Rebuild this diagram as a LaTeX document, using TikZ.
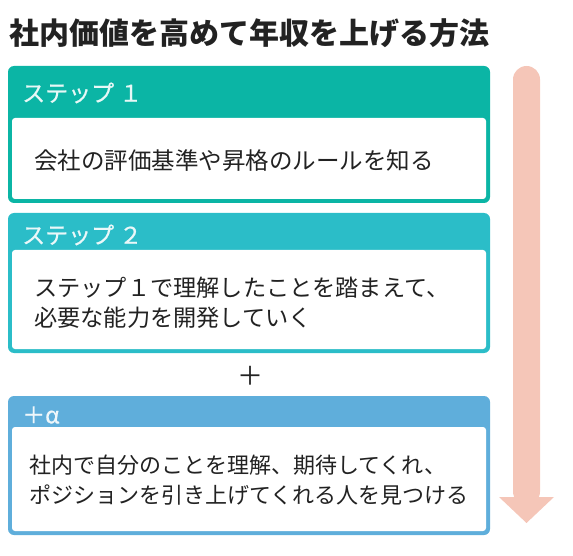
\documentclass[tikz,border=0pt]{standalone}
\usepackage{fontspec}
\setmainfont{Noto Sans CJK JP}
\newfontfamily\headfont[FakeBold=0.6]{Noto Sans CJK JP}
\usetikzlibrary{positioning}
\definecolor{stepone}{RGB}{11,181,165}
\definecolor{steptwo}{RGB}{43,189,200}
\definecolor{stepalpha}{RGB}{95,174,219}
\definecolor{flowpink}{RGB}{245,198,184}
\definecolor{inkgray}{RGB}{34,34,34}

\begin{document}
\begin{tikzpicture}[x=1pt, y=-1pt,
    frame/.style={rectangle, fill=#1, rounded corners=6pt, minimum width=482pt, inner sep=0pt},
    pane/.style={rectangle, fill=white, rounded corners=3pt, minimum width=474pt, inner sep=0pt, anchor=south},
    head/.style={anchor=west, inner sep=0pt, text=white!90!#1, font=\headfont\fontsize{23}{23}\selectfont},
    body/.style={anchor=west, inner sep=0pt, align=left, text=inkgray, font=\fontsize{#1}{30.5}\selectfont},
    body/.default=22
]
    \useasboundingbox (0,0) rectangle (573,556);

    \node[anchor=west, inner sep=0pt, text=inkgray, font=\fontsize{30}{30}\selectfont\bfseries] (title) at (9,33.5) {社内価値を高めて年収を上げる方法};

    % flow arrow
    \fill[flowpink, rounded corners=13.5pt] (513,66) rectangle (540,505);
    \fill[flowpink] (499,497) -- (554,497) -- (526.5,523) -- cycle;

    % step 1
    \node[frame=stepone, minimum height=137pt] (box1) at (249,134.5) {};
    \node[pane, minimum height=81pt] (pane1) at ([yshift=4pt]box1.south) {};
    \node[head=stepone] (head1) at (22,93) {ステップ\hspace{5pt}１};
    \node[body=23.5] (text1) at (34,161) {会社の評価基準や昇格のルールを知る};

    % step 2
    \node[frame=steptwo, minimum height=140pt] (box2) at (249,283) {};
    \node[pane, minimum height=99pt] (pane2) at ([yshift=4pt]box2.south) {};
    \node[head=steptwo] (head2) at (22,235) {ステップ\hspace{5pt}２};
    \node[body=23.2] (text2) at (34,302.75) {ステップ１で理解したことを踏まえて、\\必要な能力を開発していく};

    \node[inner sep=0pt, text=inkgray, font=\fontsize{26}{26}\selectfont] (plus) at (250,376) {＋};

    % plus alpha
    \node[frame=stepalpha, minimum height=139pt] (box3) at (249,465.5) {};
    \node[pane, minimum height=104pt] (pane3) at ([yshift=4pt]box3.south) {};
    \node[head=stepalpha] (head3) at (22,415) {＋α};
    \node[body] (text3) at (29,480) {社内で自分のことを理解、期待してくれ、\\ポジションを引き上げてくれる人を見つける};
\end{tikzpicture}
\end{document}
